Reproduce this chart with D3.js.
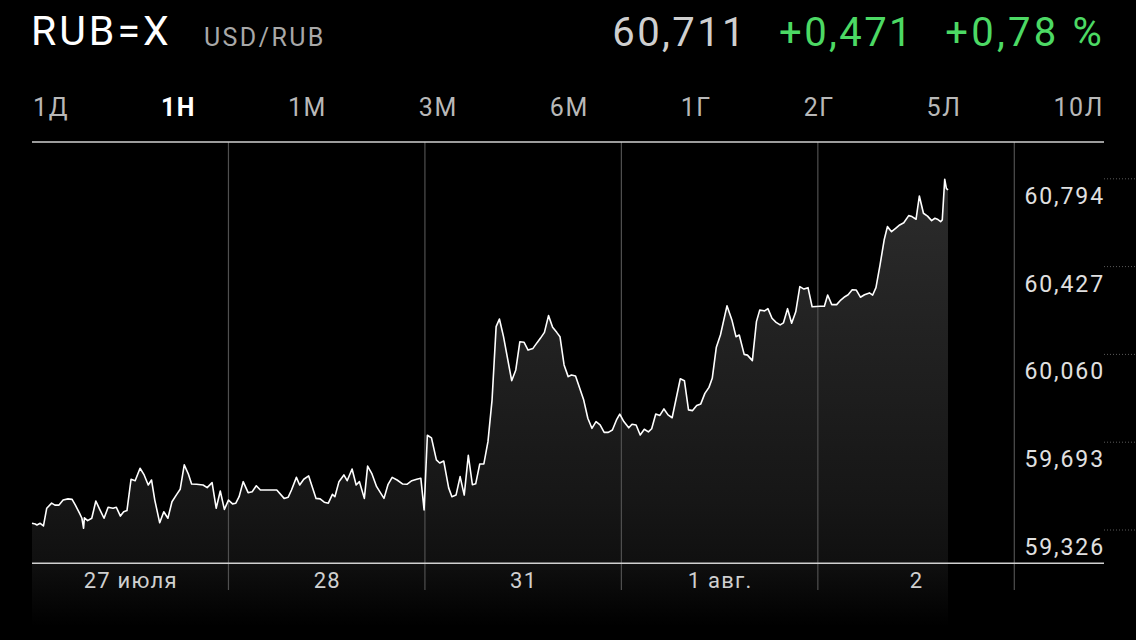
<!DOCTYPE html>
<html><head><meta charset="utf-8">
<script src="https://cdn.jsdelivr.net/npm/d3@7"></script>
<style>
html,body{margin:0;padding:0;background:#000;}
svg{display:block;font-family:Roboto,"Noto Sans",sans-serif;}
</style></head>
<body>
<svg id="chart" width="1136" height="640"></svg>
<script>
// ---- data ----
const symbol = "RUB=X";
const pairName = "USD/RUB";
const lastPrice = "60,711";
const change = "+0,471";
const changePct = "+0,78 %";
const tabs = ["1Д","1Н","1М","3М","6М","1Г","2Г","5Л","10Л"];
const selectedTab = "1Н";
const dayLabels = ["27 июля","28","31","1 авг.","2"];
const yTicks = [60.794, 60.427, 60.060, 59.693, 59.326];
// hours since start of 27 July (trading days only, 24 h each)
const hours = [0.0,0.4,0.6,1.0,1.4,1.8,2.4,2.8,3.3,3.8,4.4,4.9,5.3,5.8,6.1,6.3,6.4,6.8,7.3,7.8,8.3,8.8,9.3,9.9,10.3,10.8,11.2,11.6,12.1,12.6,13.2,13.7,14.2,14.6,15.0,15.6,16.1,16.6,17.1,17.7,18.1,18.6,19.1,19.5,20.1,20.9,21.4,22.0,22.5,23.0,23.5,24.0,24.5,24.9,25.3,25.8,26.4,26.9,27.4,27.9,29.9,30.8,31.3,31.7,32.3,32.7,33.2,33.8,34.7,35.2,35.7,36.2,36.7,37.0,37.5,38.1,38.5,39.1,39.6,40.0,40.6,41.0,41.5,42.1,43.0,43.5,44.0,44.6,45.3,45.8,46.4,47.0,47.5,47.9,48.3,48.8,49.4,49.8,50.3,50.9,51.3,51.8,52.3,52.8,53.3,53.8,54.2,54.7,55.2,55.7,56.2,56.7,57.1,57.6,58.6,59.1,59.6,60.1,60.6,61.2,61.7,62.1,62.6,63.1,63.6,64.1,64.5,65.0,65.5,65.9,66.4,67.4,67.9,68.4,68.9,69.4,69.9,70.4,70.9,71.4,71.8,72.3,72.9,73.3,73.8,74.3,74.8,75.3,75.7,76.2,76.7,77.2,77.7,78.2,79.2,79.7,80.2,80.7,81.2,81.7,82.2,82.7,83.1,83.6,84.1,84.9,85.5,86.0,86.4,87.0,87.4,88.0,88.5,88.9,89.5,89.9,90.4,90.9,91.4,91.8,92.3,92.8,93.3,93.8,94.3,94.8,95.3,96.3,96.8,97.2,97.7,98.3,98.8,99.3,99.7,100.2,100.7,101.2,101.7,102.3,102.7,103.1,103.6,104.1,104.5,105.0,105.5,106.0,106.5,107.1,107.5,108.0,108.4,108.9,109.4,109.9,110.3,110.6,111.0,111.2,111.5,111.7,111.9];
const rates = [59.352,59.349,59.345,59.352,59.341,59.415,59.436,59.428,59.428,59.449,59.454,59.452,59.428,59.394,59.373,59.331,59.375,59.363,59.373,59.445,59.408,59.373,59.419,59.415,59.419,59.382,59.400,59.405,59.536,59.530,59.582,59.554,59.512,59.533,59.449,59.354,59.400,59.373,59.442,59.474,59.494,59.596,59.558,59.516,59.515,59.512,59.501,59.522,59.415,59.487,59.410,59.449,59.433,59.436,59.463,59.526,59.480,59.484,59.509,59.491,59.491,59.456,59.461,59.491,59.544,59.512,59.536,59.550,59.456,59.454,59.440,59.436,59.473,59.463,59.526,59.554,59.530,59.579,59.512,59.526,59.456,59.591,59.561,59.505,59.456,59.515,59.544,59.533,59.516,59.515,59.530,59.536,59.540,59.408,59.720,59.709,59.617,59.604,59.612,59.500,59.463,59.470,59.547,59.470,59.636,59.513,59.517,59.600,59.600,59.693,59.867,60.174,60.206,60.132,59.948,59.993,60.111,60.109,60.076,60.083,60.107,60.125,60.150,60.220,60.171,60.150,60.132,60.014,59.965,59.972,59.968,59.867,59.791,59.749,59.777,59.763,59.732,59.732,59.742,59.784,59.808,59.777,59.751,59.766,59.763,59.721,59.745,59.734,59.747,59.809,59.803,59.830,59.805,59.793,59.956,59.948,59.826,59.823,59.844,59.851,59.895,59.920,59.958,60.088,60.139,60.261,60.202,60.132,60.139,60.058,60.055,60.032,60.195,60.243,60.240,60.249,60.209,60.192,60.181,60.190,60.249,60.188,60.236,60.341,60.331,60.337,60.257,60.259,60.259,60.306,60.266,60.266,60.285,60.299,60.307,60.328,60.327,60.297,60.307,60.315,60.306,60.337,60.432,60.536,60.592,60.571,60.585,60.599,60.608,60.638,60.634,60.623,60.720,60.648,60.636,60.617,60.627,60.623,60.613,60.620,60.790,60.752,60.745];
const data = hours.map((h,i)=>({h, v: rates[i]}));

// ---- layout ----
const svg = d3.select("#chart");
const plotLeft = 32, plotRight = 1104, plotEnd = 1014.3;
const plotTop = 142, plotBottom = 563.3;

const x = d3.scaleLinear().domain([0, 120]).range([plotLeft, plotEnd]);
const y = d3.scaleLinear().domain([59.326, 60.794]).range([529.5, 178.3]);
const fmt = v => d3.format(".3f")(v).replace(".", ",");

// header
svg.append("text").attr("x",31).attr("y",45).attr("fill","#fff")
  .attr("font-size",41).attr("letter-spacing",3).text(symbol);
svg.append("text").attr("x",204).attr("y",46).attr("fill","#a8a8a8")
  .attr("font-size",25).attr("letter-spacing",2.4).text(pairName);
const hdr = svg.append("g").attr("font-size",40).attr("text-anchor","end").attr("letter-spacing",2.4);
hdr.append("text").attr("x",1105).attr("y",46).attr("fill","#4cd964").attr("letter-spacing",3.2).text(changePct);
hdr.append("text").attr("x",914).attr("y",46).attr("fill","#4cd964").text(change);
hdr.append("text").attr("x",747).attr("y",46).attr("fill","#cfcfcf").text(lastPrice);

// tabs (space-between)
const tabG = svg.append("g").attr("font-size",25).attr("letter-spacing",1.6);
const tabNodes = tabG.selectAll("text").data(tabs).join("text")
  .attr("y",116)
  .attr("fill", d => d===selectedTab ? "#fff" : "#b8b8b8")
  .attr("font-weight", d => d===selectedTab ? 700 : 400)
  .text(d=>d);
const widths = tabNodes.nodes().map(n=>n.getComputedTextLength());
const totalW = d3.sum(widths);
const gap = ((1104-33) - totalW)/(tabs.length-1);
let cx = 33;
tabNodes.attr("x",(d,i)=>{const p=cx; cx += widths[i]+gap; return p;});

// gradient for area
const defs = svg.append("defs");
const grad = defs.append("linearGradient").attr("id","areaGrad")
  .attr("gradientUnits","userSpaceOnUse").attr("x1",0).attr("x2",0).attr("y1",180).attr("y2",640);
grad.append("stop").attr("offset","0%").attr("stop-color","#2c2c2c");
grad.append("stop").attr("offset","70%").attr("stop-color","#161616");
grad.append("stop").attr("offset","83%").attr("stop-color","#101010");
grad.append("stop").attr("offset","97%").attr("stop-color","#000");

// area
const area = d3.area().x(d=>x(d.h)).y0(640).y1(d=>y(d.v));
svg.append("path").datum(data).attr("d",area).attr("fill","url(#areaGrad)");

// gridlines + y labels
const yAxis = d3.axisLeft(y).tickValues(yTicks).tickFormat(fmt)
  .tickSizeInner(-(plotRight-plotLeft)).tickSizeOuter(0).tickPadding(2);
const ya = svg.append("g").attr("transform",`translate(${plotRight},0)`).call(yAxis);
ya.select(".domain").remove();
ya.selectAll(".tick line").attr("stroke","#5a5a5a").attr("stroke-dasharray","1,2").attr("stroke-width",1);
ya.selectAll(".tick text").attr("fill","#e0e0e0").attr("font-size",23)
  .attr("font-family","Roboto,sans-serif").attr("letter-spacing",1.9)
  .attr("dy",null).attr("y",25).attr("x",1);

// vertical day separators
const daySeps = [24,48,72,96,120];
svg.append("g").selectAll("line").data(daySeps).join("line")
  .attr("x1",d=>x(d)).attr("x2",d=>x(d)).attr("y1",plotTop).attr("y2",590)
  .attr("stroke","#505050").attr("stroke-width",1.2);

// line
const line = d3.line().x(d=>x(d.h)).y(d=>y(d.v));
svg.append("path").datum(data).attr("d",line).attr("fill","none")
  .attr("stroke","#fff").attr("stroke-width",1.6).attr("stroke-linejoin","round");

// top separator + baseline
svg.append("line").attr("x1",plotLeft).attr("x2",plotRight).attr("y1",plotTop).attr("y2",plotTop)
  .attr("stroke","#d0d0d0").attr("stroke-width",1.5);
svg.append("line").attr("x1",plotLeft).attr("x2",plotRight).attr("y1",plotBottom).attr("y2",plotBottom)
  .attr("stroke","#d0d0d0").attr("stroke-width",1.5);

// x labels
const xAxis = d3.axisBottom(x).tickValues([12,36,60,84,108])
  .tickFormat((d,i)=>dayLabels[i]).tickSize(0).tickPadding(0);
const xa = svg.append("g").attr("transform",`translate(0,${plotBottom})`).call(xAxis);
xa.select(".domain").remove();
xa.selectAll(".tick text").attr("fill","#d0d0d0").attr("font-size",22)
  .attr("font-family","Roboto,sans-serif").attr("letter-spacing",1.2)
  .attr("dy",null).attr("y",25);
</script>
</body></html>
